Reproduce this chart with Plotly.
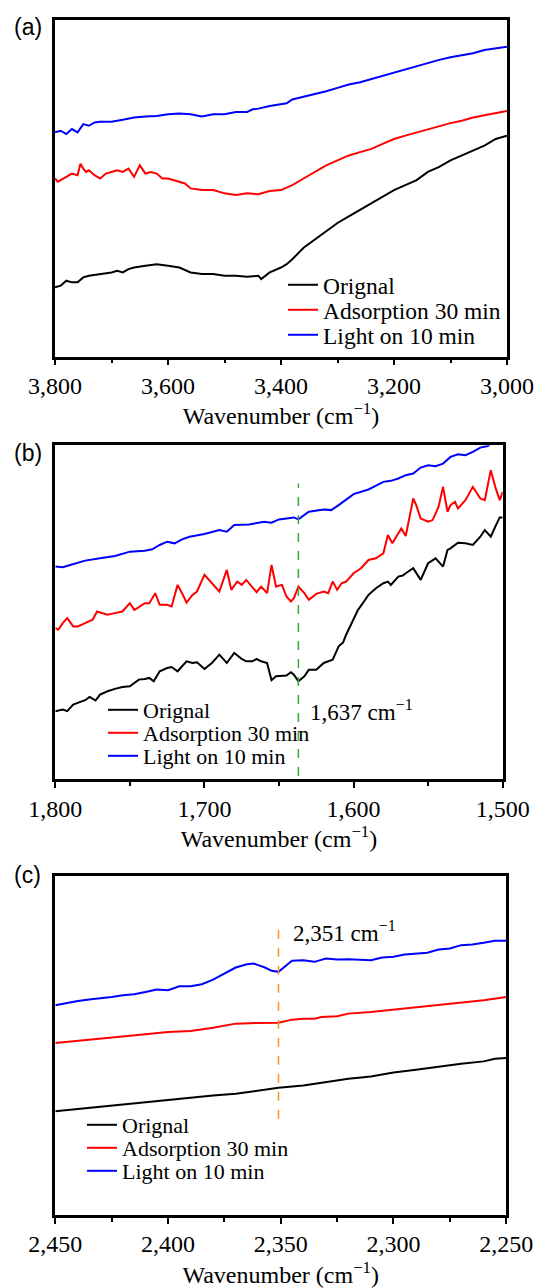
import plotly.graph_objects as go

# ---------------- Panel (a): 3800-3000 cm-1 ----------------
a_x_orig = [3800, 3790, 3780, 3770, 3760, 3750, 3740, 3720, 3700, 3690, 3680, 3670, 3660, 3640, 3620,
            3600, 3580, 3560, 3540, 3520, 3500, 3480, 3460, 3440, 3435, 3420, 3400, 3390, 3380, 3360,
            3340, 3320, 3300, 3280, 3260, 3240, 3220, 3200, 3180, 3160, 3140, 3120, 3100, 3080, 3060,
            3040, 3020, 3000]
a_y_orig = [210, 215, 230, 225, 225, 240, 245, 250, 255, 260, 255, 265, 270, 275, 280,
            275, 270, 255, 250, 250, 245, 245, 242, 245, 235, 255, 270, 280, 295, 330,
            355, 380, 405, 425, 445, 465, 485, 505, 520, 535, 560, 575, 595, 610, 625,
            640, 660, 670]

a_x_ads = [3800, 3795, 3790, 3780, 3770, 3760, 3755, 3750, 3745, 3740, 3730, 3720, 3710, 3700, 3690,
           3680, 3670, 3660, 3650, 3640, 3630, 3620, 3610, 3600, 3590, 3580, 3570, 3560, 3540, 3520,
           3500, 3480, 3460, 3440, 3420, 3400, 3380, 3360, 3340, 3320, 3300, 3280, 3260, 3240, 3220,
           3200, 3180, 3160, 3140, 3120, 3100, 3080, 3060, 3040, 3020, 3000]
a_y_ads = [540, 530, 535, 545, 555, 550, 585, 570, 560, 565, 550, 540, 555, 560, 565,
           560, 570, 545, 580, 555, 560, 555, 540, 540, 535, 530, 525, 510, 505, 505,
           495, 490, 495, 492, 502, 505, 520, 540, 560, 580, 595, 610, 620, 630, 645,
           660, 670, 680, 690, 700, 708, 715, 725, 732, 738, 745]

a_x_light = [3800, 3790, 3780, 3770, 3760, 3750, 3740, 3730, 3720, 3700, 3680, 3660, 3640, 3620, 3600,
             3580, 3560, 3540, 3520, 3500, 3480, 3460, 3450, 3440, 3420, 3400, 3390, 3380, 3360, 3340,
             3320, 3300, 3280, 3260, 3240, 3220, 3200, 3180, 3160, 3140, 3120, 3100, 3080, 3060, 3040,
             3020, 3000]
a_y_light = [680, 685, 675, 690, 680, 705, 700, 710, 712, 712, 718, 725, 728, 730, 735,
             737, 735, 728, 735, 735, 742, 742, 750, 752, 760, 765, 768, 780, 788, 798,
             805, 815, 825, 832, 842, 852, 860, 872, 882, 892, 900, 908, 915, 920, 930,
             935, 940]

# ---------------- Panel (b): 1800-1500 cm-1 ----------------
b_x_orig = [1800, 1795, 1792, 1788, 1785, 1780, 1777, 1773, 1770, 1765, 1760, 1755, 1750, 1747, 1744,
            1740, 1737, 1734, 1730, 1725, 1722, 1718, 1715, 1712, 1708, 1705, 1700, 1695, 1690, 1685,
            1680, 1675, 1672, 1668, 1665, 1662, 1658, 1655, 1652, 1648, 1645, 1642, 1640, 1637, 1633,
            1630, 1625, 1620, 1617, 1614, 1610, 1607, 1605, 1600, 1597, 1593, 1590, 1585, 1580, 1577,
            1575, 1570, 1567, 1565, 1560, 1555, 1553, 1550, 1545, 1540, 1537, 1535, 1530, 1525, 1520,
            1515, 1512, 1508, 1505, 1502, 1500]
b_y_orig = [205, 210, 205, 225, 230, 238, 248, 237, 255, 265, 272, 278, 280, 290, 300,
            302, 305, 295, 325, 335, 338, 325, 340, 355, 350, 352, 332, 350, 375, 350,
            380, 362, 355, 355, 362, 355, 350, 298, 310, 310, 312, 322, 315, 295, 310,
            330, 330, 350, 355, 360, 400, 412, 435, 485, 510, 535, 555, 575, 590, 595,
            585, 610, 613, 620, 635, 600, 620, 650, 665, 640, 690, 695, 712, 710, 705,
            730, 750, 730, 760, 788, 788]

b_x_ads = [1800, 1798, 1795, 1792, 1788, 1785, 1780, 1778, 1775, 1772, 1768, 1765, 1760, 1755, 1750,
           1747, 1745, 1740, 1737, 1733, 1730, 1725, 1722, 1718, 1715, 1712, 1708, 1705, 1700, 1695,
           1690, 1685, 1682, 1678, 1675, 1672, 1668, 1665, 1662, 1658, 1655, 1652, 1648, 1645, 1642,
           1640, 1637, 1633, 1630, 1625, 1620, 1617, 1614, 1611, 1608, 1605, 1600, 1595, 1590, 1585,
           1580, 1577, 1574, 1572, 1568, 1565, 1560, 1558, 1555, 1550, 1547, 1543, 1540, 1537, 1535,
           1532, 1530, 1525, 1520, 1515, 1512, 1508, 1505, 1502, 1500]
b_y_ads = [455, 450, 470, 485, 460, 460, 470, 475, 480, 505, 500, 495, 500, 505, 530,
           510, 515, 530, 530, 560, 525, 525, 520, 585, 560, 532, 555, 565, 615, 590,
           565, 630, 570, 595, 585, 600, 580, 563, 580, 560, 645, 580, 585, 550, 535,
           545, 580, 560, 540, 558, 565, 560, 595, 570, 590, 595, 620, 635, 660, 665,
           680, 735, 710, 725, 755, 732, 845, 825, 785, 775, 780, 820, 880, 805, 825,
           835, 815, 840, 880, 845, 840, 930, 880, 840, 865]

b_x_light = [1800, 1795, 1790, 1780, 1770, 1760, 1750, 1740, 1735, 1730, 1725, 1720, 1715, 1710, 1700,
             1690, 1685, 1680, 1670, 1660, 1655, 1650, 1640, 1637, 1630, 1620, 1615, 1610, 1600, 1590,
             1580, 1575, 1570, 1565, 1560, 1555, 1550, 1545, 1540, 1535, 1530, 1525, 1520, 1515, 1510,
             1505, 1500]
b_y_light = [640, 638, 645, 658, 665, 672, 685, 688, 692, 705, 715, 710, 722, 730, 738,
             750, 745, 765, 767, 775, 772, 782, 788, 782, 805, 812, 810, 825, 858, 872,
             895, 898, 905, 915, 920, 938, 945, 942, 950, 970, 978, 975, 985, 998, 1003,
             1020, 1030]

b_mark_x = [1637, 1637]
b_mark_y = [10, 890]

# ---------------- Panel (c): 2450-2250 cm-1 ----------------
c_x_orig = [2450, 2440, 2430, 2420, 2410, 2400, 2390, 2380, 2370, 2360, 2351, 2340, 2330, 2320, 2310,
            2300, 2290, 2280, 2270, 2260, 2255, 2250]
c_y_orig = [310, 317, 324, 330, 337, 344, 352, 357, 362, 372, 380, 387, 397, 407, 414,
            426, 434, 444, 452, 459, 467, 469]

c_x_ads = [2450, 2440, 2430, 2420, 2410, 2400, 2390, 2380, 2370, 2360, 2351, 2345, 2340, 2335, 2332,
           2325, 2320, 2310, 2300, 2290, 2280, 2270, 2260, 2250]
c_y_ads = [514, 520, 527, 532, 540, 547, 550, 560, 572, 574, 575, 584, 587, 587, 592,
           594, 602, 607, 614, 622, 630, 637, 642, 652]

c_x_light = [2450, 2445, 2440, 2435, 2430, 2425, 2420, 2415, 2410, 2405, 2400, 2395, 2390, 2385, 2380,
             2375, 2370, 2365, 2362, 2360, 2357, 2354, 2351, 2348, 2345, 2340, 2335, 2330, 2325, 2320,
             2315, 2310, 2305, 2300, 2295, 2290, 2285, 2280, 2275, 2270, 2265, 2260, 2255, 2250]
c_y_light = [627, 634, 640, 644, 647, 652, 657, 660, 667, 674, 672, 684, 684, 690, 704,
             722, 740, 750, 752, 747, 740, 730, 727, 744, 760, 762, 757, 767, 764, 765,
             764, 762, 770, 772, 779, 782, 784, 794, 797, 807, 809, 814, 820, 820]

c_mark_x = [2351, 2351]
c_mark_y = [287, 862]

series_names = ["Orignal", "Adsorption 30 min", "Light on 10 min"]
series_colors = ["#000000", "#ff0000", "#0000ff"]

SERIF = "Liberation Serif, Times New Roman, serif"
SANS = "Liberation Sans, Arial, sans-serif"
W, H = 537, 1288


def px_dom_x(l, r):
    return [l / W, r / W]


def px_dom_y(top, bottom):
    return [1 - bottom / H, 1 - top / H]


def px_x(v):
    return v / W


def px_y(v):
    return 1 - v / H


fig = go.Figure()

# legend placement per panel: (text start x, row centres, font size)
legend_pos = [
    (323, [285, 310, 335], 23.5),
    (143, [710, 733, 756], 22),
    (122, [1125, 1148, 1171], 22),
]

panels = [
    ("x", "y", [(a_x_orig, a_y_orig), (a_x_ads, a_y_ads), (a_x_light, a_y_light)]),
    ("x2", "y2", [(b_x_orig, b_y_orig), (b_x_ads, b_y_ads), (b_x_light, b_y_light)]),
    ("x3", "y3", [(c_x_orig, c_y_orig), (c_x_ads, c_y_ads), (c_x_light, c_y_light)]),
]
legend_layouts = {}
k = 0
for p, (xa, ya, data) in enumerate(panels):
    tx, rows, fs = legend_pos[p]
    for i, ((xs, ys), name, col) in enumerate(zip(data, series_names, series_colors)):
        k += 1
        lg = "legend" if k == 1 else f"legend{k}"
        fig.add_trace(go.Scatter(x=xs, y=ys, mode="lines", name=name,
                                 line=dict(color=col, width=2),
                                 xaxis=xa, yaxis=ya, legend=lg))
        legend_layouts[lg] = dict(x=px_x(tx - 40), y=px_y(rows[i]), xanchor="left", yanchor="middle",
                                  bgcolor="rgba(0,0,0,0)", borderwidth=0,
                                  font=dict(family=SERIF, size=fs, color="black"))

fig.add_trace(go.Scatter(x=b_mark_x, y=b_mark_y, mode="lines", showlegend=False,
                         line=dict(color="#3aa83a", width=1.5, dash="dash"),
                         xaxis="x2", yaxis="y2"))
fig.add_trace(go.Scatter(x=c_mark_x, y=c_mark_y, mode="lines", showlegend=False,
                         line=dict(color="#ff9020", width=1.5, dash="dash"),
                         xaxis="x3", yaxis="y3"))

xcommon = dict(showline=True, mirror=True, linewidth=2.6, linecolor="black",
               ticks="outside", ticklen=6, tickwidth=2, tickcolor="black",
               showgrid=False, zeroline=False, tickformat=",d", automargin=False,
               tickfont=dict(family=SERIF, size=24, color="black"),
               title=dict(text="Wavenumber (cm<sup>\u22121</sup>)",
                          font=dict(family=SERIF, size=24, color="black"), standoff=10))
ycommon = dict(showline=True, mirror=True, linewidth=2.6, linecolor="black", automargin=False,
               ticks="", showticklabels=False, showgrid=False, zeroline=False)
minor_common = dict(ticks="outside", ticklen=4, tickwidth=2, tickcolor="black")

fig.update_layout(
    width=W, height=H,
    margin=dict(l=0, r=0, t=0, b=0, autoexpand=False),
    paper_bgcolor="white", plot_bgcolor="white",
    xaxis=dict(xcommon, domain=px_dom_x(55, 507), anchor="y", range=[3800, 3000],
               dtick=200, minor=dict(minor_common, dtick=100)),
    yaxis=dict(ycommon, domain=px_dom_y(20.3, 356.5), anchor="x", range=[0, 1020]),
    xaxis2=dict(xcommon, domain=px_dom_x(55.3, 502.7), anchor="y2", range=[1800, 1500],
                dtick=100, minor=dict(minor_common, dtick=50)),
    yaxis2=dict(ycommon, domain=px_dom_y(445.3, 779.3), anchor="x2", range=[0, 1005]),
    xaxis3=dict(xcommon, domain=px_dom_x(55.3, 506.2), anchor="y3", range=[2450, 2250],
                dtick=50, minor=dict(minor_common, dtick=25)),
    yaxis3=dict(ycommon, domain=px_dom_y(876, 1214.7), anchor="x3", range=[0, 1014]),
    showlegend=True,
    **legend_layouts,
)

panel_labels = [("(a)", 27), ("(b)", 453), ("(c)", 875)]
for txt, ypx in panel_labels:
    fig.add_annotation(text=txt, xref="paper", yref="paper", x=px_x(12), y=px_y(ypx),
                       xanchor="left", yanchor="middle", showarrow=False,
                       font=dict(family=SANS, size=23, color="black"))

fig.add_annotation(text="1,637 cm<sup>\u22121</sup>", xref="x2", yref="y2", x=1630.5, y=208,
                   xanchor="left", yanchor="middle", showarrow=False,
                   font=dict(family=SERIF, size=23, color="black"))
fig.add_annotation(text="2,351 cm<sup>\u22121</sup>", xref="x3", yref="y3", x=2345.5, y=847,
                   xanchor="left", yanchor="middle", showarrow=False,
                   font=dict(family=SERIF, size=23, color="black"))

fig.write_html("out.html", config={"displayModeBar": False},
               post_script="document.body.style.margin='0';document.body.style.overflow='hidden';")
